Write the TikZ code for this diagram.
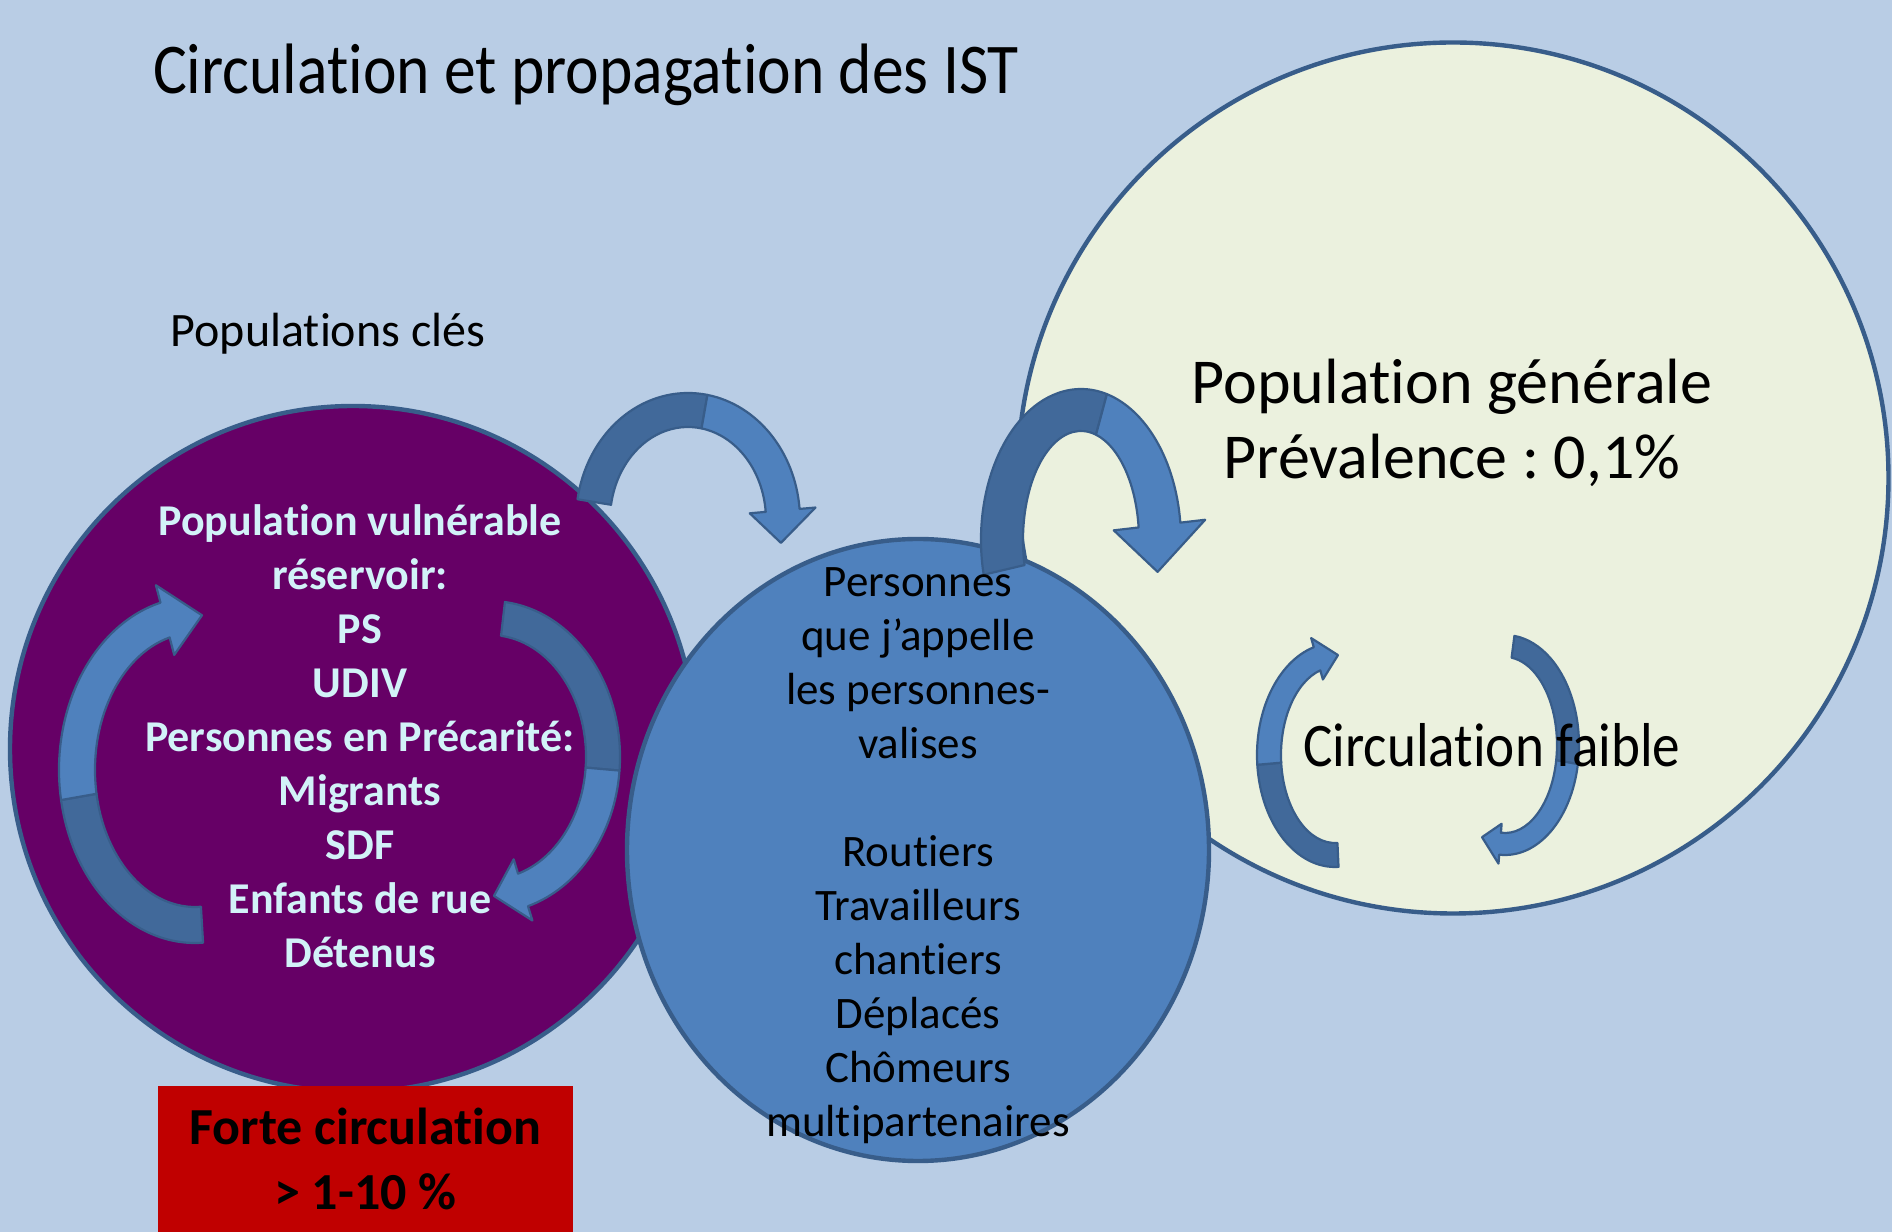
\documentclass[tikz,border=0pt]{standalone}
\usepackage{fontspec}
\setmainfont{Carlito}[Ligatures=NoCommon, Contextuals=NoAlternate]
\newfontfamily\slimfont[FakeStretch=0.89, Ligatures=NoCommon, Contextuals=NoAlternate]{Carlito}
\usepackage{tikz}
\usetikzlibrary{positioning}
\usetikzlibrary{shapes,calc}
\frenchspacing

\definecolor{bgblue}{HTML}{B9CDE5}
\definecolor{keypurple}{HTML}{660066}
\definecolor{midblue}{HTML}{4F81BD}
\definecolor{darkblue}{HTML}{41699A}
\definecolor{edgeblue}{HTML}{385D8A}
\definecolor{cream}{HTML}{EBF1DE}
\definecolor{alertred}{HTML}{C00000}
\definecolor{paletext}{HTML}{D2F2F8}

\tikzstyle{keypop} = [circle, draw=edgeblue, line width=2.2pt, fill=keypurple, minimum size=343pt]
\tikzstyle{bridgepop} = [ellipse, draw=edgeblue, line width=2.2pt, fill=midblue, minimum width=291pt, minimum height=311pt]
\tikzstyle{genpop} = [circle, draw=edgeblue, line width=2.2pt, fill=cream, minimum size=435.5pt]
\tikzstyle{alertbox} = [rectangle, fill=alertred, minimum width=207.5pt, minimum height=73pt, align=center,
    font=\fontsize{26}{32.5}\selectfont\bfseries]
\tikzstyle{arrowback} = [draw=edgeblue, line width=1.1pt, fill=darkblue, line join=round]
\tikzstyle{arrowfront} = [draw=edgeblue, line width=1.1pt, fill=midblue, line join=round]
\tikzstyle{vulntext} = [align=center, text=paletext, font=\fontsize{22}{27}\selectfont\bfseries]
\tikzstyle{bridgetext} = [align=center, font=\fontsize{22.5}{27}\selectfont]
\tikzstyle{gentext} = [align=center, font=\fontsize{32}{37.5}\selectfont]

% centre, x radius, y radius, half width, tail angle, turn angle, head angle, tip angle, head half width
\newcommand{\bandarrow}[9]{%
  \pgfmathsetmacro\rxo{#2+#4}\pgfmathsetmacro\ryo{#3+#4}%
  \pgfmathsetmacro\rxi{#2-#4}\pgfmathsetmacro\ryi{#3-#4}%
  \pgfmathsetmacro\hxo{#2+#9}\pgfmathsetmacro\hyo{#3+#9}%
  \pgfmathsetmacro\hxi{#2-#9}\pgfmathsetmacro\hyi{#3-#9}%
  \filldraw[arrowback] ($#1+({\rxo*cos(#5)},{\ryo*sin(#5)})$)
    arc[start angle=#5, end angle=#6, x radius=\rxo, y radius=\ryo]
    -- ($#1+({\rxi*cos(#6)},{\ryi*sin(#6)})$)
    arc[start angle=#6, end angle=#5, x radius=\rxi, y radius=\ryi] -- cycle;
  \filldraw[arrowfront] ($#1+({\rxo*cos(#6)},{\ryo*sin(#6)})$)
    arc[start angle=#6, end angle=#7, x radius=\rxo, y radius=\ryo]
    -- ($#1+({\hxo*cos(#7)},{\hyo*sin(#7)})$)
    -- ($#1+({#2*cos(#8)},{#3*sin(#8)})$)
    -- ($#1+({\hxi*cos(#7)},{\hyi*sin(#7)})$)
    -- ($#1+({\rxi*cos(#7)},{\ryi*sin(#7)})$)
    arc[start angle=#7, end angle=#6, x radius=\rxi, y radius=\ryi] -- cycle;
}

\begin{document}
\begin{tikzpicture}[x=0.5pt, y=0.5pt]

\useasboundingbox (0,0) rectangle (1892,1232);
\fill[bgblue] (0,0) rectangle (1892,1232);

\node (genpop) [genpop] at (1453,754) {};
\node (keypop) [keypop] at (353,483) {};
\node (bridgepop) [bridgepop] at (918,382) {};
\node (forte) [alertbox] at (365.5,73) {Forte circulation\\> 1-10 \%};

\bandarrow{(688,712)}{95}{110}{17}{170.6}{80}{5}{-12}{33}
\bandarrow{(1081,692)}{79}{130}{21}{193.3}{75}{6.6}{-14.2}{46}
\bandarrow{(195,462)}{118}{155}{18}{273.4}{190}{104.7}{86.6}{36}
\bandarrow{(490,475)}{113}{139}{17}{83.4}{-5}{-73}{-88}{32}
\bandarrow{(1335,477)}{66}{100}{12}{272.6}{185}{105.8}{87.4}{21.5}
\bandarrow{(1505,487)}{63}{99}{11}{82.7}{-10}{-94.5}{-111.4}{20}

\node (title) [font=\slimfont\fontsize{35.7}{40}\selectfont] at (586,1157) {Circulation et propagation des IST};
\node (keylabel) [font=\fontsize{24}{28}\selectfont] at (328,898) {Populations clés};
\node (vulntext) [vulntext] at (360,496) {Population vulnérable\\réservoir:\\PS\\UDIV\\Personnes en Précarité:\\Migrants\\SDF\\Enfants de rue\\Détenus};
\node (bridgetext) [bridgetext] at (918,376) {Personnes\\que j’appelle\\les personnes-\\valises\\[27pt]Routiers\\Travailleurs\\chantiers\\Déplacés\\Chômeurs\\multipartenaires};
\node (gentext) [gentext] at (1452,809) {Population générale\\Prévalence : 0,1\%};
\node (faible) [font=\slimfont\fontsize{31}{36}\selectfont] at (1492,487) {Circulation faible};

\end{tikzpicture}
\end{document}
